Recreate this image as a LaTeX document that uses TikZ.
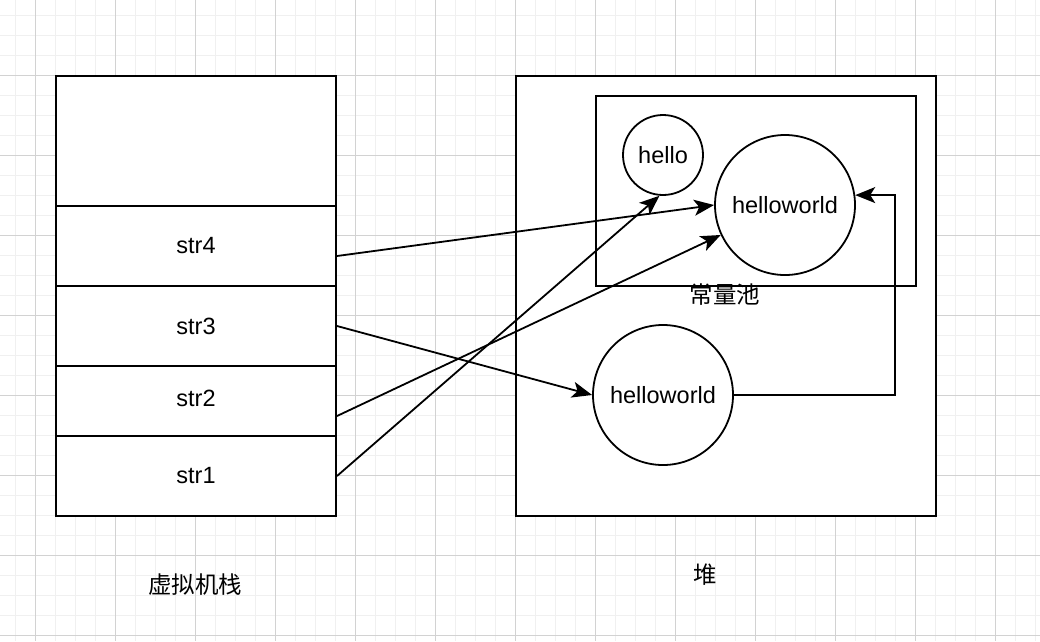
\documentclass[tikz,border=0pt]{standalone}
\usepackage{fontspec}
\setmainfont{Liberation Sans}
\newfontfamily\cjk{Noto Sans CJK SC}
\usetikzlibrary{arrows.meta}
\definecolor{gridminor}{RGB}{240,240,240}
\definecolor{gridmajor}{RGB}{210,210,210}
\tikzset{
  cell/.style={draw, fill=white, line width=2pt, minimum width=280pt, inner sep=0pt, anchor=north west, font=\fontsize{23.5}{28}\selectfont},
  frame/.style={draw, fill=white, line width=2pt, inner sep=0pt, anchor=north west},
  blob/.style={draw, fill=white, circle, line width=1.8pt, inner sep=0pt, font=\fontsize{23.5}{28}\selectfont},
  lbl/.style={font=\cjk\fontsize{23.5}{28}\selectfont, inner sep=0pt},
  ref/.style={line width=1.8pt, -{Stealth[length=20pt, width=16pt, inset=5pt]}},
}
\begin{document}
\begin{tikzpicture}[x=1pt,y=-1pt]
\useasboundingbox (0,0) rectangle (1040,641);
\fill[white] (0,0) rectangle (1040,641);
% grid
\foreach \i in {0,...,51} { \draw[gridminor, line width=1pt] ({15+20*\i},0) -- ({15+20*\i},641); }
\foreach \j in {0,...,31} { \draw[gridminor, line width=1pt] (0,{15+20*\j}) -- (1040,{15+20*\j}); }
\foreach \i in {0,...,12} { \draw[gridmajor, line width=1pt] ({35+80*\i},0) -- ({35+80*\i},641); }
\foreach \j in {0,...,7} { \draw[gridmajor, line width=1pt] (0,{75+80*\j}) -- (1040,{75+80*\j}); }
% stack
\node[cell, minimum height=130pt] (top) at (55,75) {};
\node[cell, minimum height=80pt] (s4) at (55,205) {str4};
\node[cell, minimum height=80pt] (s3) at (55,285) {str3};
\node[cell, minimum height=70pt] (s2) at (55,365) {\raisebox{5pt}{str2}};
\node[cell, minimum height=80pt] (s1) at (55,435) {str1};
\node[lbl] (stacklbl) at (195,585) {虚拟机栈};
% heap
\node[frame, minimum width=420pt, minimum height=440pt] (heap) at (515,75) {};
\node[frame, minimum width=320pt, minimum height=190pt] (pool) at (595,95) {};
\node[lbl] (poollbl) at (725,295) {常量池};
\node[lbl] (heaplbl) at (705,575) {堆};
\node[blob, minimum size=80pt] (hello) at (663,155) {hello};
\node[blob, minimum size=140pt] (hw1) at (785,205) {helloworld};
\node[blob, minimum size=140pt] (hw2) at (663,395) {helloworld};
% references
\coordinate (bend) at (895,195);
\draw[ref] ([yshift=-10pt]s4.east) -- (hw1.west);
\draw[ref] (s3.east) -- (hw2.west);
\draw[ref] ([yshift=-15pt]s2.east) -- (hw1.205);
\draw[ref] (s1.east) -- (hello.265);
\draw[ref] (hw2.east) -| (bend) -- (hw1.8);
\end{tikzpicture}
\end{document}
